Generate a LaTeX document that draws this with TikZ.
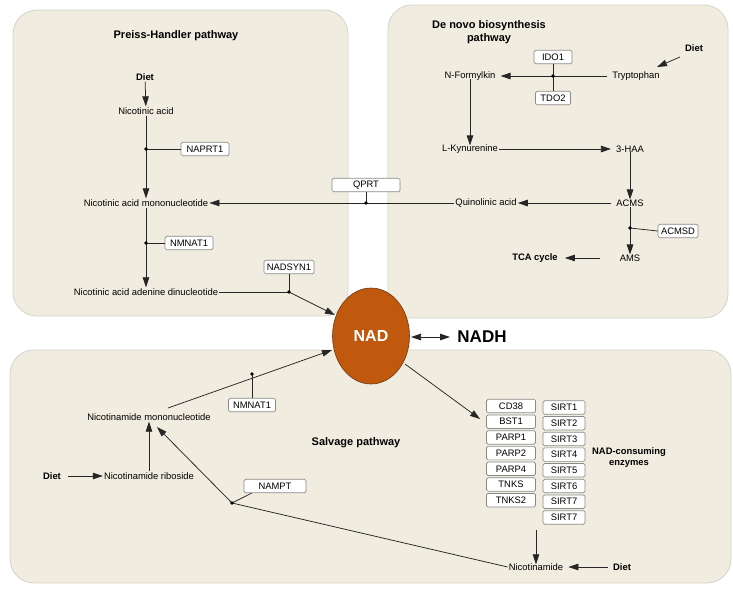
\documentclass[tikz,border=0pt]{standalone}
\usepackage{fontspec}
\setmainfont{Liberation Sans}
\usetikzlibrary{arrows.meta,shapes.geometric}
\definecolor{panel}{HTML}{F0ECDF}
\definecolor{panelborder}{HTML}{D6D3CB}
\definecolor{nadfill}{HTML}{C0580E}
\definecolor{nadborder}{HTML}{6E3A12}
\definecolor{boxborder}{HTML}{8A8A8A}
\begin{document}
\begin{tikzpicture}[x=1pt,y=-1pt,
  panelbox/.style={fill=panel,draw=panelborder,line width=0.8pt,rounded corners=24pt},
  lbl/.style={font=\fontsize{9.4}{10}\selectfont,inner sep=1pt},
  blbl/.style={font=\fontsize{9.4}{11}\selectfont\bfseries,inner sep=1pt,align=center},
  ttl/.style={font=\fontsize{11}{12.5}\selectfont\bfseries,inner sep=1pt,align=center},
  enz/.style={draw=boxborder,fill=white,rounded corners=1.5pt,line width=0.7pt,font=\fontsize{9.4}{10}\selectfont,minimum height=13.5pt,inner sep=1pt},
  ln/.style={line width=0.75pt,draw=black!85},
  arr/.style={ln,-{Triangle[length=10pt,width=6.5pt]}},
  darr/.style={ln,{Triangle[length=10pt,width=6.5pt]}-{Triangle[length=10pt,width=6.5pt]}},
  dot/.style={circle,fill=black,inner sep=0pt,minimum size=3.6pt}
]
\useasboundingbox (0,0) rectangle (733,600);
% panels
\draw[panelbox] (13,10) rectangle (348,316);
\draw[panelbox] (388,5) rectangle (728,318);
\draw[panelbox] (10,350) rectangle (731,583);

% ---------- Preiss-Handler ----------
\node[ttl] (ph) at (176,36) {Preiss-Handler pathway};
\node[blbl] (diet1) at (145,77) {Diet};
\node[lbl] (na) at (146,111) {Nicotinic acid};
\node[lbl] (namn) at (146,203) {Nicotinic acid mononucleotide};
\node[lbl] (naad) at (146,292) {Nicotinic acid adenine dinucleotide};
\node[enz,minimum width=48pt] (naprt) at (205,149) {NAPRT1};
\node[enz,minimum width=48pt] (nmnat1a) at (189,243) {NMNAT1};
\node[enz,minimum width=50pt] (nadsyn) at (289,267) {NADSYN1};
\coordinate (d1) at (146,149);
\coordinate (d2) at (146,243);
\coordinate (d3) at (289,292);
\draw[arr] (diet1) -- (na);
\draw[arr] (na) -- (namn);
\draw[arr] (namn) -- (naad);
\draw[ln] (d1) -- (naprt);
\draw[ln] (d2) -- (nmnat1a);
\draw[ln] (naad) -- (d3);
\draw[ln] (nadsyn) -- (d3);
\node[dot] at (d1) {};
\node[dot] at (d2) {};

% ---------- De novo ----------
\node[ttl] (dn) at (489,32) {De novo biosynthesis\\pathway};
\node[blbl] (diet2) at (694,48) {Diet};
\node[lbl] (trp) at (636,76) {Tryptophan};
\node[lbl] (nfk) at (470,76) {N-Formylkin};
\node[enz,minimum width=38pt] (ido) at (553,57) {IDO1};
\node[enz,minimum width=35pt] (tdo) at (553,98) {TDO2};
\coordinate (d4) at (553,76);
\node[lbl] (lkyn) at (470,149) {L-Kynurenine};
\node[lbl] (haa) at (630,149) {3-HAA};
\node[lbl] (acms) at (630,203) {ACMS};
\node[lbl] (quin) at (486,203) {Quinolinic acid};
\node[enz,minimum width=40pt] (acmsd) at (678,231) {ACMSD};
\coordinate (d5) at (630,228);
\node[lbl] (ams) at (630,258) {AMS};
\node[blbl] (tca) at (535,258) {TCA cycle};
\coordinate (amsl) at (600,258);
\coordinate (dietd) at (680,57);
\coordinate (trpin) at (657,67);
\draw[arr] (dietd) -- (trpin);
\draw[arr] ([xshift=-4pt]trp.west) -- ([xshift=4pt]nfk.east);
\draw[ln] (ido) -- (tdo);
\draw[arr] ([yshift=3pt]nfk.south) -- ([yshift=-2pt]lkyn.north);
\draw[arr] (lkyn.east) -- ([xshift=-4pt]haa.west);
\draw[arr] ([yshift=2pt]haa.south) -- ([yshift=-1pt]acms.north);
\draw[arr] ([xshift=-4pt]acms.west) -- (quin.east);
\draw[arr] ([yshift=1pt]acms.south) -- ([yshift=-1pt]ams.north);
\draw[ln] (d5) -- (acmsd.west);
\draw[arr] (amsl) -- ([xshift=6pt]tca.east);
\node[dot] at (d4) {};
\node[dot] at (d5) {};

% QPRT
\node[enz,minimum width=68pt] (qprt) at (366,185) {QPRT};
\coordinate (d6) at (366,203);
\draw[arr] (quin.west) -- (namn.east);
\draw[ln] (qprt) -- (d6);
\node[dot] at (d6) {};

% ---------- NAD ----------
\node[ellipse,draw=nadborder,fill=nadfill,line width=0.6pt,minimum width=77pt,minimum height=96pt,inner sep=0pt,text=white,font=\fontsize{16}{18}\selectfont\bfseries] (nad) at (371,336) {NAD};
\node[font=\fontsize{17}{18}\selectfont\bfseries] (nadh) at (482,337) {NADH};
\coordinate (dl) at (411,337);
\coordinate (dr) at (450,337);
\draw[darr] (dl) -- (dr);
\coordinate (nadtl) at (335,315);
\draw[arr] (d3) -- (nadtl);
\node[dot] at (d3) {};

% ---------- Salvage ----------
\node[ttl] (salv) at (356,443) {Salvage pathway};
\node[lbl] (nmn) at (149,417) {Nicotinamide mononucleotide};
\node[lbl] (nr) at (149,476) {Nicotinamide riboside};
\node[blbl] (diet3) at (52,476) {Diet};
\node[enz,minimum width=47pt] (nmnat1b) at (252,405) {NMNAT1};
\node[enz,minimum width=62pt] (nampt) at (275,486) {NAMPT};
\coordinate (d7) at (252,374);
\coordinate (d8) at (232,503);
\node[lbl] (nam) at (536,567) {Nicotinamide};
\node[blbl] (diet4) at (622,567) {Diet};
\coordinate (nmnr) at (168,408);
\coordinate (nmnb) at (157,427);
\coordinate (nadin) at (332,350);
\draw[arr] (nmnr) -- (nadin);
\draw[ln] (nmnat1b) -- (d7);
\draw[arr] (nr.north) -- (nmn.south);
\draw[arr] ([xshift=6pt]diet3.east) -- (nr.west);
\draw[ln] ([xshift=8pt]nampt.south west) -- (d8);
\draw[arr] (d8) -- (nmnb);
\draw[ln] (d8) -- (nam.west);
\draw[arr] ([xshift=-4pt]diet4.west) -- ([xshift=4pt]nam.east);
\node[dot] at (d7) {};
\node[dot] at (d8) {};

% enzymes
\foreach \t [count=\i from 0] in {CD38,BST1,PARP1,PARP2,PARP4,TNKS,TNKS2}
  \node[enz,minimum width=49pt] (e\i) at (511,406+15.7*\i) {\t};
\foreach \t [count=\i from 0] in {SIRT1,SIRT2,SIRT3,SIRT4,SIRT5,SIRT6,SIRT7,SIRT7}
  \node[enz,minimum width=42pt] (s\i) at (564,407.5+15.7*\i) {\t};
\node[blbl] (cons) at (629,458) {NAD-consuming\\enzymes};
\coordinate (nadout) at (405,364);
\coordinate (enzin) at (480,419);
\draw[arr] (nadout) -- (enzin);
\coordinate (arrtop) at (536,530);
\draw[arr] (arrtop) -- ([yshift=-2pt]nam.north);
\end{tikzpicture}
\end{document}
